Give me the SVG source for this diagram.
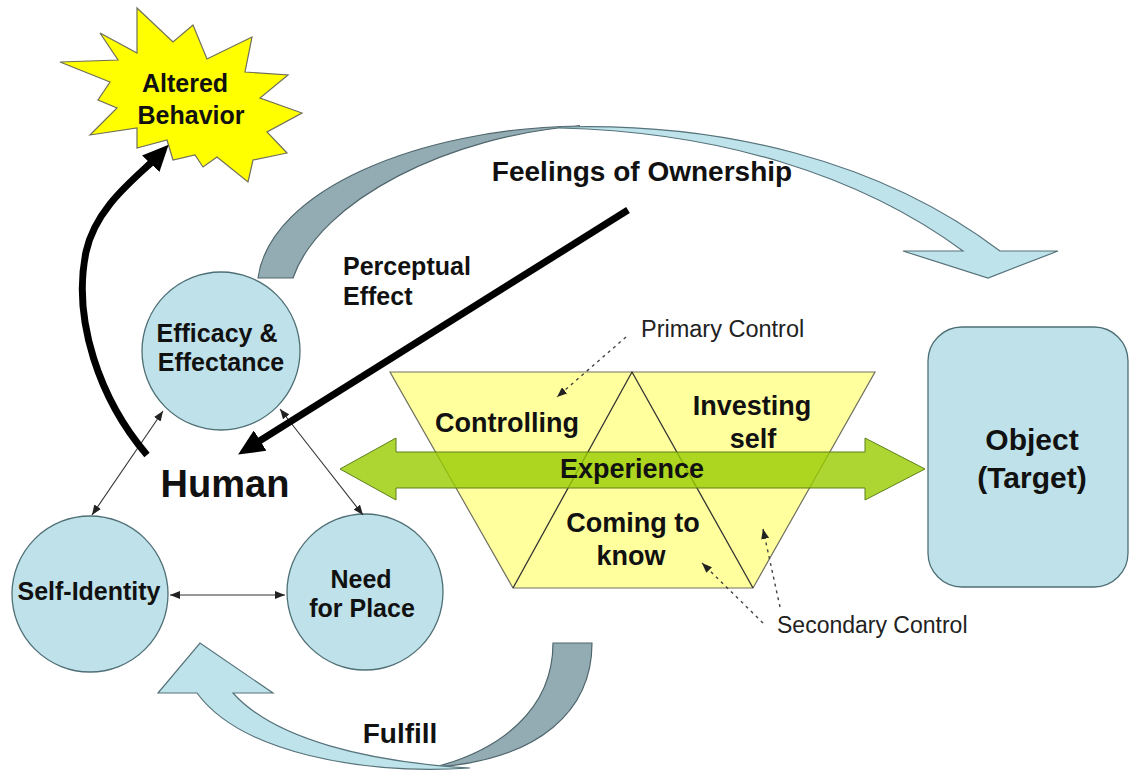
<svg xmlns="http://www.w3.org/2000/svg" width="1130" height="770" viewBox="0 0 1130 770">
<style>
.b{font-family:"Liberation Sans",Arial,sans-serif;font-weight:bold;fill:#111;text-anchor:middle}
.r{font-family:"Liberation Sans",Arial,sans-serif;fill:#222;font-size:23px}
.circ{fill:#bfe1e9;stroke:#4f6f76;stroke-width:1.3}
.dark{fill:#93abb3;stroke:#4f666c;stroke-width:1.2}
.light{fill:#bfe3eb;stroke:#56727a;stroke-width:1.2}
.thin{fill:none;stroke:#333;stroke-width:1.1}
.dash{fill:none;stroke:#444;stroke-width:1.4;stroke-dasharray:3 4}
.thick{fill:none;stroke:#000;stroke-width:7}
</style>
<defs>
<marker id="big" viewBox="0 0 26 24" markerWidth="26" markerHeight="24" refX="12" refY="12" orient="auto" markerUnits="userSpaceOnUse"><path d="M0,0 L26,12 L0,24 Z" fill="#000"/></marker>
<marker id="sm" viewBox="0 0 10 8" markerWidth="10" markerHeight="8" refX="10" refY="4" orient="auto-start-reverse" markerUnits="userSpaceOnUse"><path d="M0,0 L10,4 L0,8 Z" fill="#222"/></marker>
<marker id="ds" viewBox="0 0 10 8" markerWidth="10" markerHeight="8" refX="10" refY="4" orient="auto" markerUnits="userSpaceOnUse"><path d="M0,0 L10,4 L0,8 Z" fill="#222"/></marker>
</defs>
<rect width="1130" height="770" fill="#fff"/>

<g id="block-arrows">
  <g id="ownership-arrow">
    <path class="dark" d="M258,278 C270,190 420,128 580,126 C450,135 320,200 293,278 Z"/>
    <path class="light" d="M560,127 C720,122 880,160 1000,251 L1058,251 L988,278 L903,251 L963,251 C860,175 720,132 560,128 Z"/>
  </g>
  <g id="fulfill-arrow">
    <path class="dark" d="M553,643 L592,643 C592,710 540,760 435,767 C500,750 553,710 553,643 Z"/>
    <path class="light" d="M470,768 C360,775 240,752 197,693 L158,693 L200,643 L273,693 L233,693 C275,740 370,762 470,768 Z"/>
  </g>
</g>

<g id="node-altered">
  <polygon fill="#ffff00" stroke="#6f6f5a" stroke-width="1.2" points="137,8 173,42 193,25 207,59 252,37 245,72 288,75 260,98 302,113 267,132 287,153 253,160 248,182 217,157 203,167 195,155 173,160 167,140 137,148 137,128 90,135 117,108 98,100 110,82 60,62 118,60 100,33 137,53"/>
  <text class="b" font-size="25" x="185" y="92">Altered</text>
  <text class="b" font-size="25" x="191" y="124">Behavior</text>
</g>

<g id="node-efficacy">
  <circle class="circ" cx="221" cy="351" r="79"/>
  <text class="b" font-size="25" x="217" y="342">Efficacy &amp;</text>
  <text class="b" font-size="25" x="221" y="371">Effectance</text>
</g>
<g id="node-self">
  <circle class="circ" cx="90" cy="594" r="78"/>
  <text class="b" font-size="25" x="89" y="600">Self-Identity</text>
</g>
<g id="node-need">
  <circle class="circ" cx="365" cy="592" r="78"/>
  <text class="b" font-size="25" x="361" y="588">Need</text>
  <text class="b" font-size="25" x="362" y="617">for Place</text>
</g>
<g id="node-human">
  <text class="b" font-size="38" x="225" y="497">Human</text>
</g>

<g id="node-experience">
  <polygon fill="#ffff9e" stroke="#707060" stroke-width="1.2" points="390,372 875,372 753,588 513,588"/>
  <polyline fill="none" stroke="#333" stroke-width="1.3" points="513,588 632,372 753,588"/>
  <text class="b" font-size="27" x="507" y="432">Controlling</text>
  <text class="b" font-size="27" x="752" y="415">Investing</text>
  <text class="b" font-size="27" x="753" y="448">self</text>
  <polygon fill="#99cc00" fill-opacity="0.8" stroke="#5e7f1a" stroke-width="1" points="340,469 396,438 396,452 865,452 865,438 925,469 865,500 865,488 396,488 396,500"/>
  <text class="b" font-size="27" x="632" y="478">Experience</text>
  <text class="b" font-size="27" x="633" y="532">Coming to</text>
  <text class="b" font-size="27" x="631" y="565">know</text>
</g>

<g id="node-object">
  <rect x="928" y="327" width="200" height="260" rx="34" fill="#bfe1e9" stroke="#4f6f76" stroke-width="1.3"/>
  <text class="b" font-size="30" x="1032" y="450">Object</text>
  <text class="b" font-size="30" x="1032" y="488">(Target)</text>
</g>

<g id="connectors">
  <path class="thin" d="M163,411 L92,515" marker-start="url(#sm)" marker-end="url(#sm)"/>
  <path class="thin" d="M280,409 L363,515" marker-start="url(#sm)" marker-end="url(#sm)"/>
  <path class="thin" d="M170,595 L285,595" marker-start="url(#sm)" marker-end="url(#sm)"/>
  <path class="thick" d="M147,455 C100,400 72,320 86,252 C96,205 140,175 159,155" marker-end="url(#big)"/>
  <path class="thick" d="M628,210 L250,447" marker-end="url(#big)"/>
  <path class="dash" d="M626,337 L557,397" marker-end="url(#ds)"/>
  <path class="dash" d="M763,623 L702,563" marker-end="url(#ds)"/>
  <path class="dash" d="M780,607 L763,529" marker-end="url(#ds)"/>
</g>

<g id="labels">
  <text class="b" font-size="28" x="642" y="181">Feelings of Ownership</text>
  <text class="b" font-size="25" x="343" y="275" style="text-anchor:start">Perceptual</text>
  <text class="b" font-size="25" x="343" y="305" style="text-anchor:start">Effect</text>
  <text class="b" font-size="28" x="400" y="743">Fulfill</text>
  <text class="r" x="641" y="337" style="font-size:23.5px">Primary Control</text>
  <text class="r" x="777" y="633">Secondary Control</text>
</g>
</svg>
